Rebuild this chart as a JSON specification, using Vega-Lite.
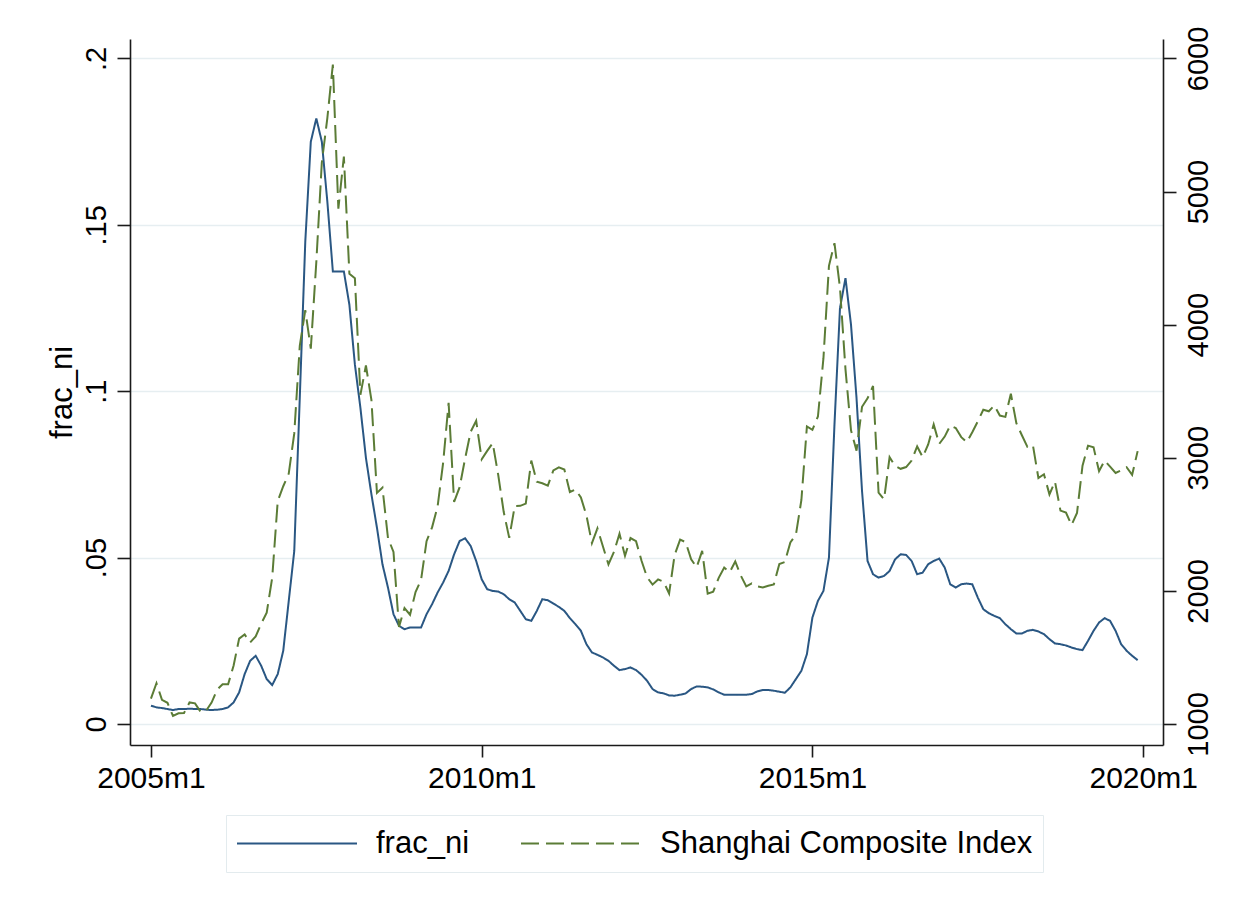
{
  "$schema": "https://vega.github.io/schema/vega-lite/v6.json",
  "width": 1033,
  "height": 706,
  "autosize": {"type": "none"},
  "padding": {"left": 130, "top": 39, "right": 81, "bottom": 166},
  "background": "white",
  "config": {
    "view": {"stroke": null},
    "font": "Liberation Sans",
    "axis": {
      "labelFont": "Liberation Sans",
      "titleFont": "Liberation Sans",
      "labelColor": "black",
      "titleColor": "black",
      "domainColor": "#1a1a1a",
      "domainWidth": 1.6,
      "tickColor": "#1a1a1a",
      "tickWidth": 1.6,
      "labelFlush": false,
      "labelOverlap": false
    },
    "legend": {
      "orient": "none",
      "legendX": 96,
      "legendY": 776,
      "direction": "horizontal",
      "symbolType": "stroke",
      "symbolSize": 14400,
      "symbolStrokeWidth": 2,
      "clipHeight": 37,
      "labelFont": "Liberation Sans",
      "labelFontSize": 31,
      "labelColor": "black",
      "labelOffset": 18,
      "labelLimit": 1000,
      "columnPadding": 50,
      "padding": 10,
      "strokeColor": "#e3ebee",
      "fillColor": "white",
      "cornerRadius": 0
    }
  },
  "data": {
    "values": [
      {"tm": 540, "frac_ni": 0.0055, "sci": 1191},
      {"tm": 541, "frac_ni": 0.0050, "sci": 1306},
      {"tm": 542, "frac_ni": 0.0048, "sci": 1181},
      {"tm": 543, "frac_ni": 0.0045, "sci": 1159},
      {"tm": 544, "frac_ni": 0.0042, "sci": 1060},
      {"tm": 545, "frac_ni": 0.0045, "sci": 1080},
      {"tm": 546, "frac_ni": 0.0045, "sci": 1083},
      {"tm": 547, "frac_ni": 0.0046, "sci": 1162},
      {"tm": 548, "frac_ni": 0.0045, "sci": 1155},
      {"tm": 549, "frac_ni": 0.0045, "sci": 1092},
      {"tm": 550, "frac_ni": 0.0043, "sci": 1099},
      {"tm": 551, "frac_ni": 0.0042, "sci": 1161},
      {"tm": 552, "frac_ni": 0.0043, "sci": 1258},
      {"tm": 553, "frac_ni": 0.0045, "sci": 1299},
      {"tm": 554, "frac_ni": 0.0050, "sci": 1298},
      {"tm": 555, "frac_ni": 0.0065, "sci": 1440},
      {"tm": 556, "frac_ni": 0.0095, "sci": 1641},
      {"tm": 557, "frac_ni": 0.0150, "sci": 1672},
      {"tm": 558, "frac_ni": 0.0190, "sci": 1612},
      {"tm": 559, "frac_ni": 0.0205, "sci": 1658},
      {"tm": 560, "frac_ni": 0.0175, "sci": 1753},
      {"tm": 561, "frac_ni": 0.0135, "sci": 1837},
      {"tm": 562, "frac_ni": 0.0117, "sci": 2099},
      {"tm": 563, "frac_ni": 0.0150, "sci": 2675},
      {"tm": 564, "frac_ni": 0.0220, "sci": 2786},
      {"tm": 565, "frac_ni": 0.0370, "sci": 2881},
      {"tm": 566, "frac_ni": 0.0520, "sci": 3183},
      {"tm": 567, "frac_ni": 0.0980, "sci": 3841},
      {"tm": 568, "frac_ni": 0.1450, "sci": 4109},
      {"tm": 569, "frac_ni": 0.1750, "sci": 3820},
      {"tm": 570, "frac_ni": 0.1820, "sci": 4471},
      {"tm": 571, "frac_ni": 0.1750, "sci": 5218},
      {"tm": 572, "frac_ni": 0.1570, "sci": 5552},
      {"tm": 573, "frac_ni": 0.1360, "sci": 5954},
      {"tm": 574, "frac_ni": 0.1360, "sci": 4871},
      {"tm": 575, "frac_ni": 0.1360, "sci": 5262},
      {"tm": 576, "frac_ni": 0.1260, "sci": 4383},
      {"tm": 577, "frac_ni": 0.1080, "sci": 4348},
      {"tm": 578, "frac_ni": 0.0950, "sci": 3473},
      {"tm": 579, "frac_ni": 0.0800, "sci": 3693},
      {"tm": 580, "frac_ni": 0.0690, "sci": 3433},
      {"tm": 581, "frac_ni": 0.0590, "sci": 2736},
      {"tm": 582, "frac_ni": 0.0480, "sci": 2775},
      {"tm": 583, "frac_ni": 0.0410, "sci": 2397},
      {"tm": 584, "frac_ni": 0.0330, "sci": 2293},
      {"tm": 585, "frac_ni": 0.0295, "sci": 1729},
      {"tm": 586, "frac_ni": 0.0285, "sci": 1871},
      {"tm": 587, "frac_ni": 0.0290, "sci": 1821},
      {"tm": 588, "frac_ni": 0.0290, "sci": 1991},
      {"tm": 589, "frac_ni": 0.0290, "sci": 2082},
      {"tm": 590, "frac_ni": 0.0330, "sci": 2373},
      {"tm": 591, "frac_ni": 0.0360, "sci": 2477},
      {"tm": 592, "frac_ni": 0.0395, "sci": 2633},
      {"tm": 593, "frac_ni": 0.0425, "sci": 2959},
      {"tm": 594, "frac_ni": 0.0460, "sci": 3412},
      {"tm": 595, "frac_ni": 0.0510, "sci": 2668},
      {"tm": 596, "frac_ni": 0.0550, "sci": 2779},
      {"tm": 597, "frac_ni": 0.0558, "sci": 2996},
      {"tm": 598, "frac_ni": 0.0535, "sci": 3195},
      {"tm": 599, "frac_ni": 0.0490, "sci": 3277},
      {"tm": 600, "frac_ni": 0.0435, "sci": 2989},
      {"tm": 601, "frac_ni": 0.0405, "sci": 3052},
      {"tm": 602, "frac_ni": 0.0400, "sci": 3110},
      {"tm": 603, "frac_ni": 0.0398, "sci": 2871},
      {"tm": 604, "frac_ni": 0.0390, "sci": 2592},
      {"tm": 605, "frac_ni": 0.0375, "sci": 2398},
      {"tm": 606, "frac_ni": 0.0365, "sci": 2638},
      {"tm": 607, "frac_ni": 0.0340, "sci": 2639},
      {"tm": 608, "frac_ni": 0.0315, "sci": 2656},
      {"tm": 609, "frac_ni": 0.0310, "sci": 2979},
      {"tm": 610, "frac_ni": 0.0340, "sci": 2820},
      {"tm": 611, "frac_ni": 0.0375, "sci": 2808},
      {"tm": 612, "frac_ni": 0.0372, "sci": 2791},
      {"tm": 613, "frac_ni": 0.0362, "sci": 2905},
      {"tm": 614, "frac_ni": 0.0352, "sci": 2928},
      {"tm": 615, "frac_ni": 0.0340, "sci": 2911},
      {"tm": 616, "frac_ni": 0.0318, "sci": 2743},
      {"tm": 617, "frac_ni": 0.0300, "sci": 2762},
      {"tm": 618, "frac_ni": 0.0280, "sci": 2701},
      {"tm": 619, "frac_ni": 0.0240, "sci": 2568},
      {"tm": 620, "frac_ni": 0.0215, "sci": 2359},
      {"tm": 621, "frac_ni": 0.0208, "sci": 2469},
      {"tm": 622, "frac_ni": 0.0200, "sci": 2333},
      {"tm": 623, "frac_ni": 0.0190, "sci": 2199},
      {"tm": 624, "frac_ni": 0.0175, "sci": 2293},
      {"tm": 625, "frac_ni": 0.0162, "sci": 2429},
      {"tm": 626, "frac_ni": 0.0165, "sci": 2263},
      {"tm": 627, "frac_ni": 0.0170, "sci": 2397},
      {"tm": 628, "frac_ni": 0.0162, "sci": 2373},
      {"tm": 629, "frac_ni": 0.0148, "sci": 2226},
      {"tm": 630, "frac_ni": 0.0130, "sci": 2103},
      {"tm": 631, "frac_ni": 0.0105, "sci": 2047},
      {"tm": 632, "frac_ni": 0.0095, "sci": 2086},
      {"tm": 633, "frac_ni": 0.0092, "sci": 2069},
      {"tm": 634, "frac_ni": 0.0086, "sci": 1980},
      {"tm": 635, "frac_ni": 0.0085, "sci": 2269},
      {"tm": 636, "frac_ni": 0.0088, "sci": 2385},
      {"tm": 637, "frac_ni": 0.0092, "sci": 2366},
      {"tm": 638, "frac_ni": 0.0105, "sci": 2237},
      {"tm": 639, "frac_ni": 0.0113, "sci": 2178},
      {"tm": 640, "frac_ni": 0.0112, "sci": 2301},
      {"tm": 641, "frac_ni": 0.0110, "sci": 1979},
      {"tm": 642, "frac_ni": 0.0104, "sci": 1994},
      {"tm": 643, "frac_ni": 0.0095, "sci": 2098},
      {"tm": 644, "frac_ni": 0.0088, "sci": 2175},
      {"tm": 645, "frac_ni": 0.0088, "sci": 2141},
      {"tm": 646, "frac_ni": 0.0088, "sci": 2221},
      {"tm": 647, "frac_ni": 0.0088, "sci": 2116},
      {"tm": 648, "frac_ni": 0.0088, "sci": 2033},
      {"tm": 649, "frac_ni": 0.0090, "sci": 2056},
      {"tm": 650, "frac_ni": 0.0098, "sci": 2033},
      {"tm": 651, "frac_ni": 0.0102, "sci": 2026},
      {"tm": 652, "frac_ni": 0.0102, "sci": 2039},
      {"tm": 653, "frac_ni": 0.0100, "sci": 2048},
      {"tm": 654, "frac_ni": 0.0097, "sci": 2202},
      {"tm": 655, "frac_ni": 0.0094, "sci": 2217},
      {"tm": 656, "frac_ni": 0.0110, "sci": 2364},
      {"tm": 657, "frac_ni": 0.0135, "sci": 2420},
      {"tm": 658, "frac_ni": 0.0160, "sci": 2683},
      {"tm": 659, "frac_ni": 0.0210, "sci": 3235},
      {"tm": 660, "frac_ni": 0.0320, "sci": 3210},
      {"tm": 661, "frac_ni": 0.0370, "sci": 3310},
      {"tm": 662, "frac_ni": 0.0400, "sci": 3748},
      {"tm": 663, "frac_ni": 0.0500, "sci": 4442},
      {"tm": 664, "frac_ni": 0.0900, "sci": 4612},
      {"tm": 665, "frac_ni": 0.1250, "sci": 4277},
      {"tm": 666, "frac_ni": 0.1340, "sci": 3664},
      {"tm": 667, "frac_ni": 0.1200, "sci": 3206},
      {"tm": 668, "frac_ni": 0.0980, "sci": 3053},
      {"tm": 669, "frac_ni": 0.0700, "sci": 3383},
      {"tm": 670, "frac_ni": 0.0490, "sci": 3446},
      {"tm": 671, "frac_ni": 0.0450, "sci": 3539},
      {"tm": 672, "frac_ni": 0.0440, "sci": 2738},
      {"tm": 673, "frac_ni": 0.0445, "sci": 2688},
      {"tm": 674, "frac_ni": 0.0460, "sci": 3004},
      {"tm": 675, "frac_ni": 0.0495, "sci": 2938},
      {"tm": 676, "frac_ni": 0.0510, "sci": 2917},
      {"tm": 677, "frac_ni": 0.0508, "sci": 2930},
      {"tm": 678, "frac_ni": 0.0490, "sci": 2979},
      {"tm": 679, "frac_ni": 0.0450, "sci": 3085},
      {"tm": 680, "frac_ni": 0.0455, "sci": 3005},
      {"tm": 681, "frac_ni": 0.0480, "sci": 3100},
      {"tm": 682, "frac_ni": 0.0490, "sci": 3250},
      {"tm": 683, "frac_ni": 0.0497, "sci": 3104},
      {"tm": 684, "frac_ni": 0.0470, "sci": 3159},
      {"tm": 685, "frac_ni": 0.0420, "sci": 3242},
      {"tm": 686, "frac_ni": 0.0410, "sci": 3223},
      {"tm": 687, "frac_ni": 0.0420, "sci": 3155},
      {"tm": 688, "frac_ni": 0.0422, "sci": 3117},
      {"tm": 689, "frac_ni": 0.0420, "sci": 3192},
      {"tm": 690, "frac_ni": 0.0380, "sci": 3273},
      {"tm": 691, "frac_ni": 0.0345, "sci": 3361},
      {"tm": 692, "frac_ni": 0.0333, "sci": 3349},
      {"tm": 693, "frac_ni": 0.0325, "sci": 3393},
      {"tm": 694, "frac_ni": 0.0318, "sci": 3317},
      {"tm": 695, "frac_ni": 0.0300, "sci": 3307},
      {"tm": 696, "frac_ni": 0.0285, "sci": 3481},
      {"tm": 697, "frac_ni": 0.0272, "sci": 3259},
      {"tm": 698, "frac_ni": 0.0272, "sci": 3169},
      {"tm": 699, "frac_ni": 0.0280, "sci": 3082},
      {"tm": 700, "frac_ni": 0.0283, "sci": 3095},
      {"tm": 701, "frac_ni": 0.0278, "sci": 2847},
      {"tm": 702, "frac_ni": 0.0270, "sci": 2876},
      {"tm": 703, "frac_ni": 0.0255, "sci": 2725},
      {"tm": 704, "frac_ni": 0.0242, "sci": 2821},
      {"tm": 705, "frac_ni": 0.0240, "sci": 2603},
      {"tm": 706, "frac_ni": 0.0236, "sci": 2588},
      {"tm": 707, "frac_ni": 0.0230, "sci": 2494},
      {"tm": 708, "frac_ni": 0.0225, "sci": 2585},
      {"tm": 709, "frac_ni": 0.0222, "sci": 2941},
      {"tm": 710, "frac_ni": 0.0250, "sci": 3091},
      {"tm": 711, "frac_ni": 0.0280, "sci": 3078},
      {"tm": 712, "frac_ni": 0.0305, "sci": 2899},
      {"tm": 713, "frac_ni": 0.0318, "sci": 2979},
      {"tm": 714, "frac_ni": 0.0310, "sci": 2933},
      {"tm": 715, "frac_ni": 0.0280, "sci": 2886},
      {"tm": 716, "frac_ni": 0.0240, "sci": 2905},
      {"tm": 717, "frac_ni": 0.0220, "sci": 2929},
      {"tm": 718, "frac_ni": 0.0205, "sci": 2872},
      {"tm": 719, "frac_ni": 0.0192, "sci": 3050}
    ]
  },
  "encoding": {
    "x": {
      "field": "tm",
      "type": "quantitative",
      "scale": {"domain": [536.2, 723.6], "nice": false, "zero": false},
      "axis": {
        "values": [540, 600, 660, 720],
        "labelExpr": "(1960 + floor(datum.value / 12)) + 'm' + (datum.value % 12 + 1)",
        "title": null,
        "grid": false,
        "tickSize": 12,
        "labelPadding": 6,
        "labelFontSize": 30
      }
    }
  },
  "layer": [
    {
      "mark": {"type": "line", "strokeWidth": 2},
      "encoding": {
        "y": {
          "field": "frac_ni",
          "type": "quantitative",
          "scale": {"domain": [-0.00631, 0.20586], "nice": false, "zero": false},
          "axis": {
            "values": [0, 0.05, 0.1, 0.15, 0.2],
            "labelExpr": "datum.value == 0 ? '0' : replace(format(datum.value, '.2~f'), '0.', '.')",
            "title": "frac_ni",
            "titleFontSize": 31,
            "titleFontWeight": "normal",
            "titlePadding": 4,
            "labelAngle": -90,
            "labelAlign": "center",
            "labelBaseline": "bottom",
            "labelPadding": 6,
            "labelFontSize": 29,
            "tickSize": 13,
            "grid": true,
            "gridColor": "#e6eef1",
            "gridWidth": 1.5
          }
        },
        "color": {
          "datum": "frac_ni",
          "type": "nominal",
          "scale": {"domain": ["frac_ni", "Shanghai Composite Index"], "range": ["#2a5783", "#5b7c36"]},
          "legend": {"title": null}
        },
        "strokeDash": {
          "datum": "frac_ni",
          "type": "nominal",
          "scale": {"domain": ["frac_ni", "Shanghai Composite Index"], "range": [[1, 0], [18, 7]]},
          "legend": {"title": null}
        }
      }
    },
    {
      "mark": {"type": "line", "strokeWidth": 2},
      "encoding": {
        "y": {
          "field": "sci",
          "type": "quantitative",
          "scale": {"domain": [842.2, 6145.8], "nice": false, "zero": false},
          "axis": {
            "orient": "right",
            "values": [1000, 2000, 3000, 4000, 5000, 6000],
            "format": "d",
            "title": null,
            "grid": false,
            "labelAngle": -90,
            "labelAlign": "center",
            "labelBaseline": "top",
            "labelPadding": 8,
            "labelFontSize": 29,
            "tickSize": 13
          }
        },
        "color": {"datum": "Shanghai Composite Index", "type": "nominal"},
        "strokeDash": {"datum": "Shanghai Composite Index", "type": "nominal"}
      }
    }
  ],
  "resolve": {"scale": {"y": "independent"}}
}
